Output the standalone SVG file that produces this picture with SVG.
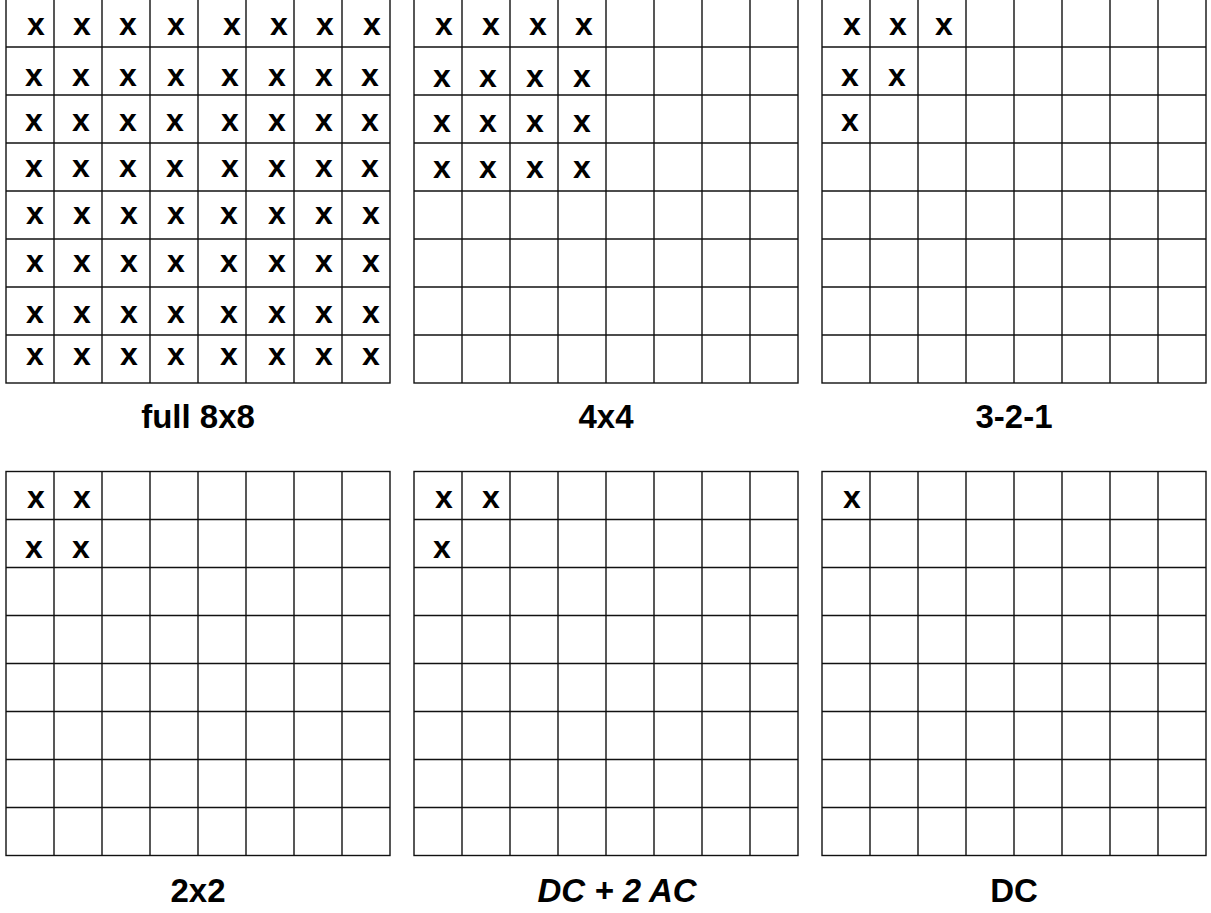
<svg xmlns="http://www.w3.org/2000/svg" width="1211" height="913" viewBox="0 0 1211 913">
<style>
.g line, .g rect{stroke:#111;stroke-width:1.4;fill:none}
.x{font-family:"Liberation Sans",Arial,sans-serif;font-weight:bold;font-size:32px;fill:#000;text-anchor:middle}
.lbl{font-family:"Liberation Sans",Arial,sans-serif;font-weight:bold;font-size:33px;fill:#000;text-anchor:middle}
</style>
<defs>
<g id="grid" class="g">
<rect x="0" y="0" width="384" height="384"/>
<line x1="48" y1="0" x2="48" y2="384"/><line x1="96" y1="0" x2="96" y2="384"/><line x1="144" y1="0" x2="144" y2="384"/><line x1="192" y1="0" x2="192" y2="384"/><line x1="240" y1="0" x2="240" y2="384"/><line x1="288" y1="0" x2="288" y2="384"/><line x1="336" y1="0" x2="336" y2="384"/>
<line x1="0" y1="48" x2="384" y2="48"/><line x1="0" y1="96" x2="384" y2="96"/><line x1="0" y1="144" x2="384" y2="144"/><line x1="0" y1="192" x2="384" y2="192"/><line x1="0" y1="240" x2="384" y2="240"/><line x1="0" y1="288" x2="384" y2="288"/><line x1="0" y1="336" x2="384" y2="336"/>
</g>
</defs>
<rect width="1211" height="913" fill="#fff"/>

<g id="full8x8">
<use href="#grid" x="6" y="-1"/>
<g class="x">
<text x="36" y="35">x</text><text x="82" y="35">x</text><text x="128" y="35">x</text><text x="176" y="35">x</text><text x="232" y="35">x</text><text x="279" y="35">x</text><text x="325" y="35">x</text><text x="372" y="35">x</text>
<text x="34" y="86">x</text><text x="81" y="86">x</text><text x="128" y="86">x</text><text x="176" y="86">x</text><text x="230" y="86">x</text><text x="277" y="86">x</text><text x="324" y="86">x</text><text x="370" y="86">x</text>
<text x="34" y="131">x</text><text x="81" y="131">x</text><text x="128" y="131">x</text><text x="175" y="131">x</text><text x="230" y="131">x</text><text x="277" y="131">x</text><text x="324" y="131">x</text><text x="370" y="131">x</text>
<text x="34" y="177">x</text><text x="81" y="177">x</text><text x="128" y="177">x</text><text x="175" y="177">x</text><text x="230" y="177">x</text><text x="277" y="177">x</text><text x="324" y="177">x</text><text x="370" y="177">x</text>
<text x="35" y="224">x</text><text x="82" y="224">x</text><text x="129" y="224">x</text><text x="176" y="224">x</text><text x="229" y="224">x</text><text x="277" y="224">x</text><text x="324" y="224">x</text><text x="371" y="224">x</text>
<text x="35" y="272">x</text><text x="82" y="272">x</text><text x="129" y="272">x</text><text x="176" y="272">x</text><text x="229" y="272">x</text><text x="277" y="272">x</text><text x="324" y="272">x</text><text x="371" y="272">x</text>
<text x="35" y="323">x</text><text x="82" y="323">x</text><text x="129" y="323">x</text><text x="176" y="323">x</text><text x="229" y="323">x</text><text x="277" y="323">x</text><text x="324" y="323">x</text><text x="371" y="323">x</text>
<text x="35" y="365">x</text><text x="82" y="365">x</text><text x="129" y="365">x</text><text x="176" y="365">x</text><text x="229" y="365">x</text><text x="277" y="365">x</text><text x="324" y="365">x</text><text x="371" y="365">x</text>
</g>
<text class="lbl" x="198" y="428">full 8x8</text>
</g>

<g id="p4x4">
<use href="#grid" x="414" y="-1"/>
<g class="x">
<text x="444" y="35">x</text><text x="491" y="35">x</text><text x="538" y="35">x</text><text x="584" y="35">x</text>
<text x="442" y="87">x</text><text x="488" y="87">x</text><text x="535" y="87">x</text><text x="582" y="87">x</text>
<text x="442" y="132">x</text><text x="488" y="132">x</text><text x="535" y="132">x</text><text x="582" y="132">x</text>
<text x="442" y="178">x</text><text x="488" y="178">x</text><text x="535" y="178">x</text><text x="582" y="178">x</text>
</g>
<text class="lbl" x="606" y="428">4x4</text>
</g>

<g id="p321">
<use href="#grid" x="822" y="-1"/>
<g class="x">
<text x="852" y="35">x</text><text x="898" y="35">x</text><text x="944" y="35">x</text>
<text x="850" y="86">x</text><text x="897" y="86">x</text>
<text x="850" y="131">x</text>
</g>
<text class="lbl" x="1014" y="428">3-2-1</text>
</g>

<g id="p2x2">
<use href="#grid" x="6" y="471.5"/>
<g class="x">
<text x="36" y="507.5">x</text><text x="82" y="507.5">x</text>
<text x="34" y="558">x</text><text x="81" y="558">x</text>
</g>
<text class="lbl" x="198" y="902">2x2</text>
</g>

<g id="pdc2ac">
<use href="#grid" x="414" y="471.5"/>
<g class="x">
<text x="444" y="507.5">x</text><text x="491" y="507.5">x</text>
<text x="442" y="558">x</text>
</g>
<text class="lbl" x="617" y="902" font-style="italic">DC + 2 AC</text>
</g>

<g id="pdc">
<use href="#grid" x="822" y="471.5"/>
<g class="x">
<text x="852" y="507.5">x</text>
</g>
<text class="lbl" x="1014" y="902">DC</text>
</g>
</svg>
